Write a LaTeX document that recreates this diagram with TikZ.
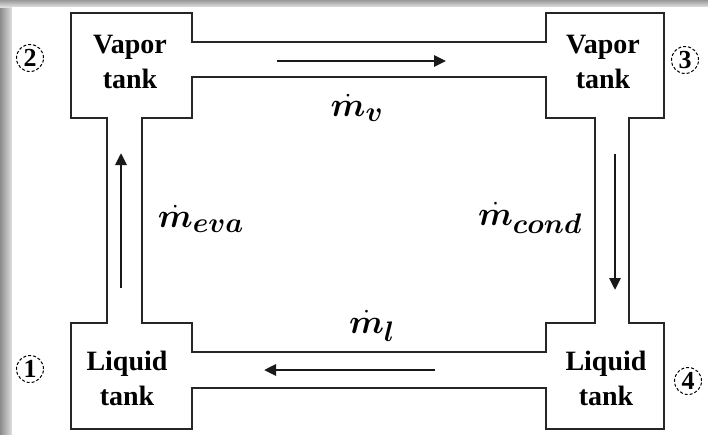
\documentclass[tikz,border=0pt]{standalone}
\usepackage{amsmath,bm}
\usepackage{fontspec}
\setmainfont{Liberation Serif}
\usetikzlibrary{arrows.meta}
\begin{document}
\begin{tikzpicture}[x=1pt,y=-1pt,
  wall/.style={line width=2pt, line join=miter, draw=black!85},
  tanklabel/.style={font=\fontsize{28}{35}\selectfont\bfseries, align=center, inner sep=0pt},
  flowarrow/.style={line width=2.8pt, -{Triangle[length=12pt,width=11pt]}, black!90},
  statenum/.style={circle, draw, densely dashed, line width=1pt, minimum size=27pt, inner sep=0pt, font=\fontsize{26}{28}\selectfont\bfseries},
  flowlabel/.style={font=\Huge, inner sep=0pt, scale=1.36}]
\useasboundingbox (0,0) rectangle (708,434);
% background and shadow
\fill[white] (0,0) rectangle (708,434);
\shade[left color=black!45, right color=black!12] (0,0) rectangle (12,434);
\shade[top color=black!40, bottom color=black!12] (0,0) rectangle (708,7);
\fill[white] (12,7) rectangle (708,434);
% outer wall
\draw[wall] (71,13) -- (192,13) -- (192,42) -- (546,42) -- (546,13) -- (664,13)
  -- (664,118) -- (629,118) -- (629,323) -- (664,323) -- (664,429) -- (546,429)
  -- (546,388) -- (192,388) -- (192,429) -- (71,429) -- (71,323) -- (107,323)
  -- (107,118) -- (71,118) -- cycle;
% inner wall
\draw[wall] (142,118) -- (192,118) -- (192,77) -- (546,77) -- (546,118) -- (595,118)
  -- (595,323) -- (546,323) -- (546,352) -- (192,352) -- (192,323) -- (142,323) -- cycle;
% tank labels
\node[tanklabel] (t2) at (130,62) {Vapor\\tank};
\node[tanklabel] (t3) at (603,62) {Vapor\\tank};
\node[tanklabel] (t1) at (127,378) {Liquid\\tank};
\node[tanklabel] (t4) at (606,378) {Liquid\\tank};
% state numbers
\node[statenum] (n2) at (30,58) {2};
\node[statenum] (n3) at (685,60) {3};
\node[statenum] (n1) at (30,369) {1};
\node[statenum] (n4) at (688,381) {4};
% flow arrows
\coordinate (av1) at (277,61);  \coordinate (av2) at (446,61);
\coordinate (ac1) at (615,154); \coordinate (ac2) at (615,290);
\coordinate (al1) at (435,370); \coordinate (al2) at (264,370);
\coordinate (ae1) at (121,288); \coordinate (ae2) at (121,153);
\draw[flowarrow] (av1) -- (av2);
\draw[flowarrow] (ac1) -- (ac2);
\draw[flowarrow] (al1) -- (al2);
\draw[flowarrow] (ae1) -- (ae2);
% flow labels
\node[flowlabel] (mv) at (357,108) {$\bm{\dot{m}_{v}}$};
\node[flowlabel] (meva) at (201,219) {$\bm{\dot{m}_{eva}}$};
\node[flowlabel] (mcond) at (530,218) {$\bm{\dot{m}_{cond}}$};
\node[flowlabel] (ml) at (372,326) {$\bm{\dot{m}_{l}}$};
\end{tikzpicture}
\end{document}
